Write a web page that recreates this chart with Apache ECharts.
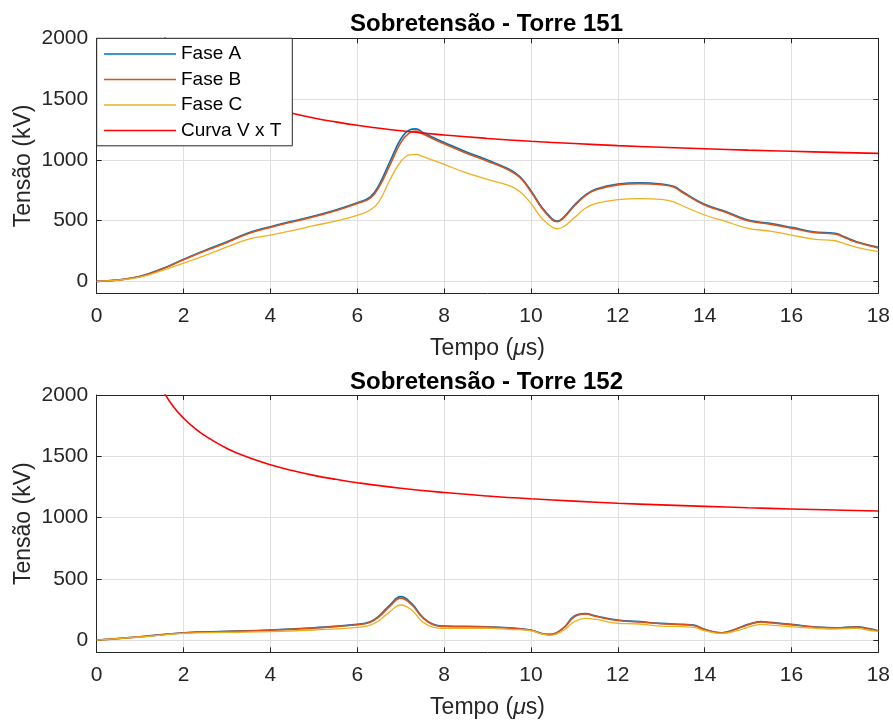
<!DOCTYPE html>
<html><head><meta charset="utf-8">
<script src="https://cdn.jsdelivr.net/npm/echarts@6/dist/echarts.min.js"></script>
<style>html,body{margin:0;padding:0;background:#fff}#c{width:893px;height:722px}</style>
</head><body><div id="c"></div>
<script>
// ---- Data ----
const titles = ['Sobretensão - Torre 151', 'Sobretensão - Torre 152'];
const seriesNames = ['Fase A', 'Fase B', 'Fase C', 'Curva V x T'];
const xTicks = [0, 2, 4, 6, 8, 10, 12, 14, 16, 18];
const yTicks = [0, 500, 1000, 1500, 2000];

// Torre 151
const t151 = [0,0.5,1,1.5,2,2.5,3,3.5,4,4.5,5,5.5,6,6.3,6.5,6.75,7,7.2,7.35,7.5,7.75,8,8.5,9,9.5,9.75,10,10.25,10.5,10.6,10.75,11,11.25,11.5,12,12.5,13,13.3,13.5,14,14.5,15,15.5,16,16.5,17,17.25,17.5,18];
const faseA151 = [0,12,42,103,181,256,325,400,450,495,537,587,647,695,792,984,1169,1245,1255,1228,1183,1143,1067,998,922,861,746,609,510,496,527,628,710,760,800,810,801,780,735,634,573,505,477,444,408,395,362,326,280];
const faseB151 = [0,11,40,100,177,251,320,394,444,489,531,581,640,685,775,955,1140,1222,1236,1215,1172,1132,1057,989,913,853,738,602,504,491,520,620,703,753,794,804,795,774,729,628,567,499,471,438,402,389,356,321,275];
const faseC151 = [0,10,35,88,150,214,283,348,381,418,458,496,543,587,655,834,984,1040,1045,1028,995,963,894,839,787,737,642,518,444,433,449,523,601,642,672,680,675,652,620,546,491,436,414,381,348,334,307,280,244];

// Torre 152
const t152 = [0,1,2,3,4,5,6,6.3,6.5,6.75,7,7.25,7.5,7.75,8,9,9.5,10,10.25,10.45,10.75,11,11.25,11.5,12,12.5,13,13.5,13.75,14,14.4,14.75,15,15.3,15.5,16,16.5,17,17.5,17.75,18];
const faseA152 = [0,27,60,71,82,100,128,150,196,286,354,299,190,128,114,109,100,82,54,46,100,196,216,196,163,150,136,128,122,87,60,95,128,150,144,128,109,100,109,95,76];
const faseB152 = [0,26,58,69,80,97,125,146,190,275,342,290,184,125,111,106,97,80,52,45,97,190,212,192,160,147,133,125,119,85,58,92,125,147,141,125,106,97,106,92,74];
const faseC152 = [0,25,54,62,68,82,103,122,158,231,286,245,150,103,95,97,87,76,50,38,80,150,177,168,136,131,114,109,103,76,54,76,103,128,122,109,98,90,95,82,71];

// Curva V x T (same in both panels)
const tVT = [1.4,1.5,1.75,2,2.25,2.5,3,3.5,4,4.5,5,5.5,6,7,8,9,10,11,12,13,14,15,16,17,18];
const vVT = [2110,2050,1912,1810,1731,1666,1564,1489,1430,1383,1344,1312,1284,1239,1204,1176,1153,1134,1117,1103,1091,1080,1070,1061,1053];

// ---- Chart ----
const FONT = '"Liberation Sans", Arial, Helvetica, sans-serif';
const AX = '#262626';
const GRIDC = '#dfdfdf';
const colors = ['#0072BD', '#D95319', '#EDB120', '#FF0000'];

const grids = [
  { left: 96.7, right: 13.7, top: 38.3, height: 255.2 },
  { left: 96.7, right: 13.7, top: 395, height: 257.3 }
];

function zip(xs, ys) { return xs.map((x, i) => [x, ys[i]]); }

const xAxis = [], yAxis = [], series = [], title = [];
grids.forEach((g, gi) => {
  xAxis.push({
    type: 'value', gridIndex: gi, position: 'bottom', min: 0, max: 18, interval: 2,
    name: 'Tempo ({mu|μ}s)', nameLocation: 'middle', nameGap: 44, nameMoveOverlap: false,
    nameTextStyle: { fontFamily: FONT, fontSize: 23, color: AX,
      rich: { mu: { fontFamily: FONT, fontSize: 23, color: AX, fontStyle: 'italic' } } },
    axisLine: { show: true, onZero: false, lineStyle: { color: AX, width: 1 } },
    axisTick: { show: true, inside: true, length: 5, lineStyle: { color: AX }, customValues: xTicks },
    axisLabel: { show: true, margin: 12, fontFamily: FONT, fontSize: 21, color: AX, customValues: xTicks,
      formatter: v => String(v) },
    splitLine: { show: true, lineStyle: { color: GRIDC, width: 1 } }
  });
  xAxis.push({
    type: 'value', gridIndex: gi, position: 'top', min: 0, max: 18, interval: 2,
    axisLine: { show: true, onZero: false, lineStyle: { color: AX, width: 1 } },
    axisTick: { show: true, inside: true, length: 5, lineStyle: { color: AX }, customValues: xTicks },
    axisLabel: { show: false }, splitLine: { show: false }
  });
  yAxis.push({
    type: 'value', gridIndex: gi, position: 'left', min: -100, max: 2000,
    name: 'Tensão (kV)', nameLocation: 'middle', nameGap: 62, nameMoveOverlap: false,
    nameTextStyle: { fontFamily: FONT, fontSize: 23, color: AX },
    axisLine: { show: true, onZero: false, lineStyle: { color: AX, width: 1 } },
    axisTick: { show: true, inside: true, length: 5, lineStyle: { color: AX }, customValues: yTicks },
    axisLabel: { show: true, margin: 8.5, fontFamily: FONT, fontSize: 21, color: AX, customValues: yTicks,
      formatter: v => String(v) },
    splitLine: { show: true, lineStyle: { color: GRIDC, width: 1 } }
  });
  yAxis.push({
    type: 'value', gridIndex: gi, position: 'right', min: -100, max: 2000,
    axisLine: { show: true, onZero: false, lineStyle: { color: AX, width: 1 } },
    axisTick: { show: true, inside: true, length: 5, lineStyle: { color: AX }, customValues: yTicks },
    axisLabel: { show: false }, splitLine: { show: false }
  });
  title.push({
    text: titles[gi], left: 486.5, textAlign: 'center', top: gi === 0 ? 12 : 370, padding: 0,
    textStyle: { fontFamily: FONT, fontSize: 24, fontWeight: 'bold', color: '#000' }
  });
});

const dataSets = [
  [zip(t151, faseA151), zip(t151, faseB151), zip(t151, faseC151), zip(tVT, vVT)],
  [zip(t152, faseA152), zip(t152, faseB152), zip(t152, faseC152), zip(tVT, vVT)]
];
dataSets.forEach((sets, gi) => {
  sets.forEach((d, si) => {
    series.push({
      type: 'line', name: seriesNames[si], xAxisIndex: gi * 2, yAxisIndex: gi * 2,
      data: d, symbol: 'none', showSymbol: false, smooth: 0.45, clip: true,
      lineStyle: { color: colors[si], width: si === 2 ? 1.3 : 1.6 },
      itemStyle: { color: colors[si] },
      z: 2 + si
    });
  });
});

const chart = echarts.init(document.getElementById('c'), null, { renderer: 'canvas' });
chart.setOption({
  animation: false,
  backgroundColor: '#fff',
  title: title,
  grid: grids,
  xAxis: xAxis,
  yAxis: yAxis,
  legend: {
    data: seriesNames, orient: 'vertical', left: 96.7, top: 38.3,
    icon: 'rect', itemWidth: 72, itemHeight: 1.6, itemGap: 5.5,
    padding: [5.7, 11, 5.3, 7.3],
    backgroundColor: '#fff', borderColor: AX, borderWidth: 1, borderRadius: 0,
    textStyle: { fontFamily: FONT, fontSize: 19, color: '#000', lineHeight: 20 },
    z: 10
  },
  series: series
});
</script>
</body></html>
